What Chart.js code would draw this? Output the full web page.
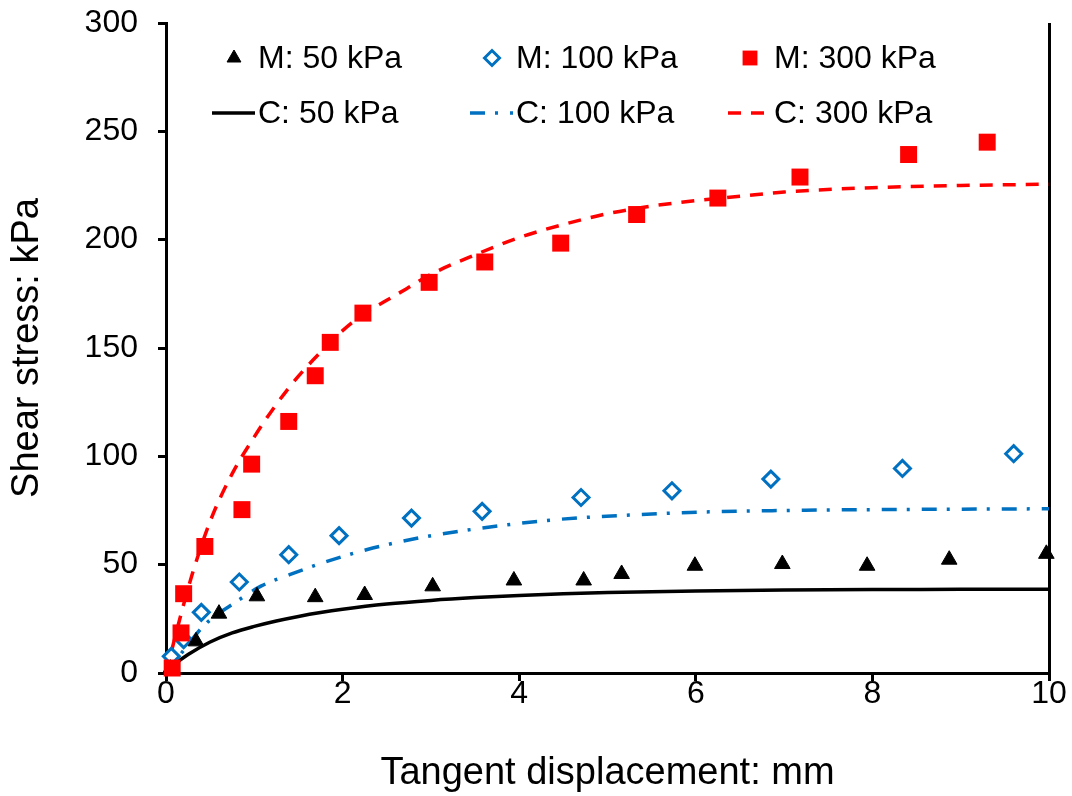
<!DOCTYPE html>
<html>
<head>
<meta charset="utf-8">
<script src="https://cdn.jsdelivr.net/npm/chart.js@4"></script>
<style>
  html, body { margin: 0; padding: 0; background: #fff; }
  #wrap { width: 1072px; height: 796px; }
</style>
</head>
<body>
<div id="wrap"><canvas id="shear_chart" width="1072" height="796"></canvas></div>
<script>
var m50X  = [0.05, 0.34, 0.60, 1.03, 1.69, 2.25, 3.02, 3.94, 4.73, 5.16, 5.99, 6.98, 7.94, 8.87, 9.97];
var m50Y  = [2, 14.6, 27.4, 35.4, 35.0, 36.0, 40.0, 42.7, 42.7, 45.7, 49.5, 50.3, 49.5, 52.3, 55.0];
var m100X = [0.06, 0.20, 0.40, 0.83, 1.39, 1.96, 2.78, 3.58, 4.70, 5.73, 6.85, 8.34, 9.60];
var m100Y = [7.7, 15.4, 28.0, 42.0, 54.6, 63.4, 71.5, 74.6, 81.0, 84.1, 89.5, 94.4, 101.2];
var m300X = [0.07, 0.17, 0.20, 0.44, 0.86, 0.97, 1.39, 1.69, 1.86, 2.23, 2.98, 3.61, 4.47, 5.33, 6.25, 7.18, 8.41, 9.30];
var m300Y = [2.3, 18.5, 36.6, 58.4, 75.4, 96.4, 116.1, 137.2, 152.6, 166.1, 180.3, 189.7, 198.4, 211.6, 219.2, 228.9, 239.3, 245.0];

// calculated curves (C)
var c50X  = [0, 0.1, 0.25, 0.5, 0.75, 1.0, 1.25, 1.5, 1.75, 2.0, 2.5, 3.0, 3.5, 4.0, 4.5, 5.0, 6.0, 7.0, 8.0, 9.0, 10];
var c50Y  = [0, 4, 8.5, 14.3, 18.5, 21.5, 24, 26.1, 27.9, 29.4, 31.8, 33.5, 34.8, 35.8, 36.6, 37.2, 37.9, 38.3, 38.5, 38.6, 38.7];
var c100X = [0, 0.17, 0.44, 0.8, 1.08, 1.4, 1.86, 2.27, 2.76, 3.07, 3.67, 4.26, 4.71, 5.16, 5.61, 6.07, 7.0, 8.0, 9.0, 10];
var c100Y = [0, 8.9, 22.3, 33, 40.2, 45.4, 52.0, 56.9, 61.5, 63.8, 67.4, 70.2, 71.7, 72.7, 73.6, 74.3, 75.0, 75.4, 75.6, 75.8];
var c300X = [0, 0.15, 0.3, 0.5, 0.75, 1.0, 1.25, 1.5, 1.75, 2.0, 2.25, 2.5, 2.75, 3.0, 3.5, 4.0, 4.5, 5.0, 5.5, 6.0, 6.5, 7.0, 8.0, 9.0, 10];
var c300Y = [0, 24, 46, 70, 92, 109, 124, 137, 148, 158, 166, 172, 178, 184, 193, 201, 207, 212, 215.5, 218, 220, 222, 224, 225, 225.6];

var seriesLabels = ['M: 50 kPa', 'M: 100 kPa', 'M: 300 kPa', 'C: 50 kPa', 'C: 100 kPa', 'C: 300 kPa'];
var xTitle = 'Tangent displacement: mm';
var yTitle = 'Shear stress: kPa';

function pts(xs, ys) {
  var out = [];
  for (var i = 0; i < xs.length; i++) out.push({x: xs[i], y: ys[i]});
  return out;
}

var FONT = '"Liberation Sans", Arial, sans-serif';

// legend drawn inside the plot, two rows of three
var insideLegend = {
  id: 'insideLegend',
  afterDatasetsDraw: function(chart) {
    var ctx = chart.ctx;
    var cols = [212, 470, 728];
    var rows = [58, 113];
    ctx.save();
    ctx.font = '32px ' + FONT;
    ctx.textBaseline = 'middle';
    ctx.textAlign = 'left';
    chart.data.datasets.forEach(function(ds, i) {
      var x0 = cols[i % 3];
      var y = rows[Math.floor(i / 3)];
      if (ds.showLine) {
        ctx.save();
        ctx.strokeStyle = ds.borderColor;
        ctx.lineWidth = ds.borderWidth;
        ctx.setLineDash(ds.borderDash || []);
        ctx.beginPath();
        ctx.moveTo(x0, y);
        ctx.lineTo(x0 + 43, y);
        ctx.stroke();
        ctx.restore();
      } else {
        ctx.save();
        ctx.fillStyle = ds.pointBackgroundColor;
        ctx.strokeStyle = ds.pointBorderColor;
        ctx.lineWidth = ds.pointBorderWidth;
        Chart.helpers.drawPoint(ctx, {
          pointStyle: ds.pointStyle,
          radius: ds.legendRadius,
          rotation: 0,
          borderWidth: ds.pointBorderWidth
        }, x0 + 22, y);
        ctx.restore();
      }
      ctx.fillStyle = '#000';
      ctx.fillText(ds.label, x0 + 46, y + 1);
    });
    ctx.restore();
  }
};

const shear_chart = document.querySelector('#shear_chart').getContext('2d');

let chart1 = new Chart(shear_chart, {
  type: 'scatter',
  data: {
    datasets: [{
      label: seriesLabels[0],
      data: pts(m50X, m50Y),
      pointStyle: 'triangle',
      pointRadius: 9,
      legendRadius: 8,
      pointBackgroundColor: '#000',
      pointBorderColor: '#000',
      pointBorderWidth: 1,
      showLine: false,
      clip: false,
      order: 1
    }, {
      label: seriesLabels[1],
      data: pts(m100X, m100Y),
      pointStyle: 'rectRot',
      pointRadius: 8,
      legendRadius: 7.5,
      pointBackgroundColor: '#fff',
      pointBorderColor: '#0070C0',
      pointBorderWidth: 3,
      showLine: false,
      clip: false,
      order: 1
    }, {
      label: seriesLabels[2],
      data: pts(m300X, m300Y),
      pointStyle: 'rect',
      pointRadius: 12,
      legendRadius: 10.5,
      pointBackgroundColor: '#FF0000',
      pointBorderColor: '#FF0000',
      pointBorderWidth: 0,
      showLine: false,
      clip: false,
      order: 0
    }, {
      label: seriesLabels[3],
      data: pts(c50X, c50Y),
      showLine: true,
      borderColor: '#000',
      borderWidth: 3.5,
      pointRadius: 0,
      cubicInterpolationMode: 'monotone',
      order: 2
    }, {
      label: seriesLabels[4],
      data: pts(c100X, c100Y),
      showLine: true,
      borderColor: '#0070C0',
      borderWidth: 3.5,
      borderDash: [15, 10, 3, 12],
      pointRadius: 0,
      cubicInterpolationMode: 'monotone',
      order: 2
    }, {
      label: seriesLabels[5],
      data: pts(c300X, c300Y),
      showLine: true,
      borderColor: '#FF0000',
      borderWidth: 3.5,
      borderDash: [13, 10],
      pointRadius: 0,
      cubicInterpolationMode: 'monotone',
      order: 2
    }]
  },
  options: {
    responsive: false,
    animation: false,
    layout: { padding: { left: 0, right: 23, top: 23, bottom: 0 } },
    plugins: {
      legend: { display: false },
      tooltip: { enabled: false }
    },
    scales: {
      x: {
        type: 'linear',
        min: 0,
        max: 10,
        ticks: {
          stepSize: 2,
          color: '#000',
          padding: -6,
          font: { family: FONT, size: 32 },
          maxRotation: 0
        },
        grid: {
          color: function(c) { return c.tick && c.tick.value === 10 ? '#000' : 'rgba(0,0,0,0)'; },
          lineWidth: 3,
          tickColor: '#000',
          tickLength: 8,
          tickWidth: 3
        },
        border: { color: '#000', width: 3 },
        title: {
          display: true,
          text: xTitle,
          color: '#000',
          font: { family: FONT, size: 38 },
          padding: { top: 0, bottom: 0 }
        },
        afterFit: function(scale) { scale.height = 123; }
      },
      y: {
        type: 'linear',
        min: 0,
        max: 300,
        ticks: {
          stepSize: 50,
          color: '#000',
          padding: 20,
          font: { family: FONT, size: 32 }
        },
        grid: {
          drawOnChartArea: false,
          color: '#000',
          tickColor: '#000',
          tickLength: 8,
          tickWidth: 3
        },
        border: { color: '#000', width: 3 },
        title: {
          display: true,
          text: yTitle,
          color: '#000',
          font: { family: FONT, size: 38 },
          padding: { top: 5, bottom: 0 }
        },
        afterFit: function(scale) {
          scale.width = 166;
          scale.paddingTop = 0;
          scale.paddingBottom = 0;
        }
      }
    }
  },
  plugins: [insideLegend]
});
</script>
</body>
</html>
